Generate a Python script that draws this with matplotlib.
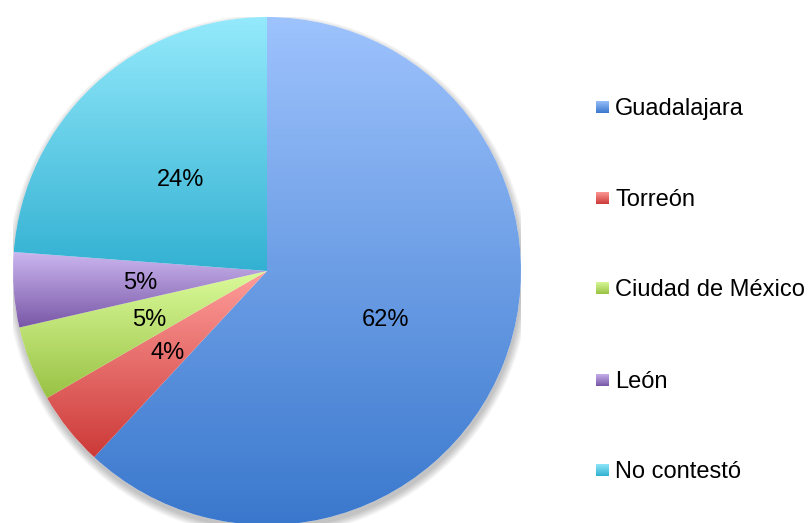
import numpy as np
import matplotlib
matplotlib.use("Agg")
import matplotlib.pyplot as plt
from matplotlib.patches import Circle
from matplotlib.colors import to_rgb

categories = ["Guadalajara", "Torreón", "Ciudad de México", "León", "No contestó"]
counts = [13, 1, 1, 1, 5]
pct_labels = ["62%", "4%", "5%", "5%", "24%"]

top_colors = ["#9EC3FD", "#FF9E9B", "#DBFB9B", "#CBB6EF", "#95EAFC"]
bot_colors = ["#3A78CD", "#CC3A38", "#99C244", "#7856A6", "#33B1D2"]

plt.rcParams['font.family'] = ['Liberation Sans', 'DejaVu Sans']

W, H = 808, 523
fig = plt.figure(figsize=(W / 100, H / 100), dpi=100)
R = 254
cx, cy = 267, 271
ax = fig.add_axes([(cx - R) / W, (H - cy - R) / H, 2 * R / W, 2 * R / H])
ax.set_aspect('equal')
ax.axis('off')


def grad_img(c_top, c_bot, n=256):
    t = np.linspace(0, 1, n)[:, None]
    a = np.array(to_rgb(c_bot))
    b = np.array(to_rgb(c_top))
    img = a[None, :] * (1 - t) + b[None, :] * t
    return img[:, None, :]


# soft shadow
for k in range(8):
    sh = Circle((0.004, -0.018), 1.0 + 0.004 * k, facecolor='black',
                edgecolor='none', alpha=0.03, zorder=0)
    ax.add_patch(sh)
ax.add_patch(Circle((0, 0), 1.0, facecolor='white', edgecolor='none', zorder=0.5))

lab_iter = iter(pct_labels)
wedges, _, autotexts = ax.pie(counts, startangle=90, counterclock=False, radius=1.0,
                              center=(0, 0), wedgeprops=dict(linewidth=0),
                              autopct=lambda p: next(lab_iter), pctdistance=0.5,
                              textprops=dict(fontsize=17, color='black'))
for t in autotexts:
    t.set_zorder(3)
    t.set_va('center_baseline')

for w, ct, cb in zip(wedges, top_colors, bot_colors):
    w.set_facecolor('none')
    bb = w.get_path().get_extents()
    im = ax.imshow(grad_img(ct, cb), extent=[bb.x0, bb.x1, bb.y0, bb.y1],
                   origin='lower', aspect='auto', interpolation='bilinear', zorder=1)
    im.set_clip_path(w)
ax.set_xlim(-1, 1)
ax.set_ylim(-1, 1)

# legend
rows = [107, 198, 288, 380, 470]
for name, ct, cb, ry in zip(categories, top_colors, bot_colors, rows):
    sx0, sx1 = 596 / W, 609 / W
    sy0, sy1 = (H - ry - 6.5) / H, (H - ry + 6.5) / H
    lax = fig.add_axes([sx0, sy0, sx1 - sx0, sy1 - sy0])
    lax.imshow(grad_img(ct, cb), extent=[0, 1, 0, 1], origin='lower', aspect='auto')
    lax.axis('off')
    fig.text(615 / W, (H - ry - 8) / H, name, ha='left', va='baseline',
             fontsize=17, color='black')

fig.savefig("out.png", dpi=100)
